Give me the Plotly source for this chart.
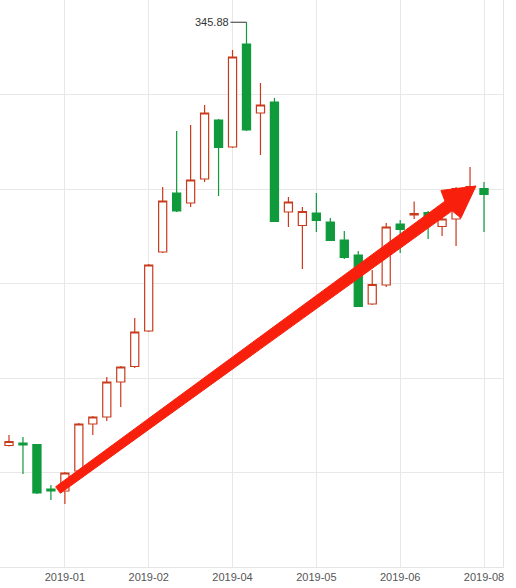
import math
import plotly.graph_objects as go

# ---- data (weekly candles) ----
dates = [
    "2018-11-30", "2018-12-07", "2018-12-14", "2018-12-21", "2018-12-28",
    "2019-01-04", "2019-01-11", "2019-01-18", "2019-01-25", "2019-02-01",
    "2019-02-15", "2019-02-22", "2019-03-01", "2019-03-08", "2019-03-15",
    "2019-03-22", "2019-03-29", "2019-04-04", "2019-04-12", "2019-04-19",
    "2019-04-26", "2019-04-30", "2019-05-10", "2019-05-17", "2019-05-24",
    "2019-05-31", "2019-06-06", "2019-06-14", "2019-06-21", "2019-06-28",
    "2019-07-05", "2019-07-12", "2019-07-19", "2019-07-26", "2019-08-02",
    "2019-08-09",
]
# note: first list entry is the partially visible week at the left edge
opens = [69.84, 77.14, 78.73, 77.78, 49.52, 48.25, 60.95, 90.79, 95.24, 117.46,
         127.30, 149.84, 200.00, 237.46, 231.11, 246.35, 283.81, 266.67, 332.06, 288.25,
         295.24, 225.40, 216.83, 224.76, 219.05, 207.62, 198.10, 166.98, 179.05, 217.78,
         223.49, 225.08, 216.19, 220.95, 240.63, 240.32]
highs = [73.65, 83.81, 82.54, 78.10, 52.06, 60.32, 91.43, 95.87, 120.63, 127.62,
         158.10, 192.38, 241.27, 276.83, 280.63, 293.33, 284.44, 328.25, 345.88, 307.30,
         297.78, 234.92, 228.57, 237.46, 221.59, 213.33, 200.63, 188.57, 218.41, 220.32,
         232.06, 226.03, 222.54, 241.27, 253.97, 244.44]
lows = [68.57, 76.51, 59.05, 46.35, 42.54, 40.00, 60.32, 83.81, 92.70, 101.59,
        126.35, 149.21, 199.37, 225.40, 228.57, 244.44, 235.56, 266.03, 276.83, 261.59,
        219.05, 215.87, 189.21, 212.70, 206.98, 195.56, 165.08, 166.35, 177.78, 199.37,
        220.95, 208.25, 210.16, 203.81, 240.00, 212.70]
closes = [72.38, 79.68, 77.46, 46.98, 48.25, 59.68, 90.79, 95.24, 117.46, 126.98,
          149.21, 191.75, 232.38, 226.03, 245.71, 288.25, 266.35, 323.81, 277.46, 293.33,
          219.37, 231.75, 225.71, 220.00, 207.30, 196.51, 165.40, 179.37, 215.87, 214.29,
          224.44, 220.32, 220.95, 240.32, 241.59, 236.51]

tick_dates = ["2019-01-04", "2019-02-22", "2019-04-04", "2019-05-17", "2019-06-28", "2019-08-09"]
tick_labels = ["2019-01", "2019-02", "2019-04", "2019-05", "2019-06", "2019-08"]

UP = "#c93a1c"
DOWN = "#0f9a3c"

fig = go.Figure()
fig.add_trace(go.Candlestick(
    x=dates, open=opens, high=highs, low=lows, close=closes,
    increasing=dict(line=dict(color=UP, width=1.2), fillcolor="white"),
    decreasing=dict(line=dict(color=DOWN, width=1.2), fillcolor=DOWN),
    whiskerwidth=0, hoverinfo="skip", showlegend=False,
))

# max annotation
imax = highs.index(max(highs))
fig.add_annotation(
    x=dates[imax], y=highs[imax], text=f"{highs[imax]:.2f}",
    showarrow=True, arrowhead=0, arrowwidth=1, arrowcolor="#333",
    ax=-16, ay=0, xanchor="right", standoff=0,
    font=dict(size=11, color="#333", family="Liberation Sans, Arial, sans-serif"),
)

# hand-drawn red arrow overlay (pixel geometry of the plot area 503x567)
PW, PH = 503.0, 567.0
def P(px, py):
    return (px / PW, 1 - py / PH)

sx, sy = 58.0, 490.0
tx, ty = 476.0, 186.0
dx, dy = tx - sx, ty - sy
L = math.hypot(dx, dy)
ux, uy = dx / L, dy / L
nx, ny = -uy, ux
head_len, head_hw = 34.0, 17.0
w0, w1 = 4.0, 6.0
bx, by = tx - head_len * ux, ty - head_len * uy
pts = [
    (sx + w0 * nx, sy + w0 * ny),
    (bx + w1 * nx, by + w1 * ny),
    (bx + head_hw * nx + 3 * ux, by + head_hw * ny + 3 * uy),
    (tx, ty),
    (bx - head_hw * nx + 3 * ux, by - head_hw * ny + 3 * uy),
    (bx - w1 * nx, by - w1 * ny),
    (sx - w0 * nx, sy - w0 * ny),
]
path = "M " + " L ".join(f"{P(x, y)[0]:.5f},{P(x, y)[1]:.5f}" for x, y in pts) + " Z"
fig.add_shape(type="path", path=path, xref="paper", yref="paper",
              fillcolor="#f8200c", line=dict(color="#f8200c", width=1), layer="above")

fig.update_layout(
    width=516, height=588,
    margin=dict(l=0, r=13, t=0, b=21),
    paper_bgcolor="white", plot_bgcolor="white",
    boxgap=0.17,
    hovermode=False,
    font=dict(family="Liberation Sans, Arial, sans-serif"),
    xaxis=dict(
        type="category", categoryorder="array", categoryarray=dates,
        range=[0.356, 36.36],
        tickvals=tick_dates, ticktext=tick_labels,
        showgrid=True, gridcolor="#e8e8e8", gridwidth=1,
        showline=True, linecolor="#e4e4e4", mirror=True,
        ticks="", tickfont=dict(size=11, color="#555"),
        rangeslider=dict(visible=False),
    ),
    yaxis=dict(
        range=[0, 360], tick0=0, dtick=60,
        showticklabels=False, showgrid=True, gridcolor="#e8e8e8",
        zeroline=False, showline=True, linecolor="#e4e4e4", mirror=True,
    ),
)

fig.write_html(
    "out.html",
    config={"displayModeBar": False},
    post_script="document.body.style.margin='0';document.body.style.overflow='hidden';",
)
